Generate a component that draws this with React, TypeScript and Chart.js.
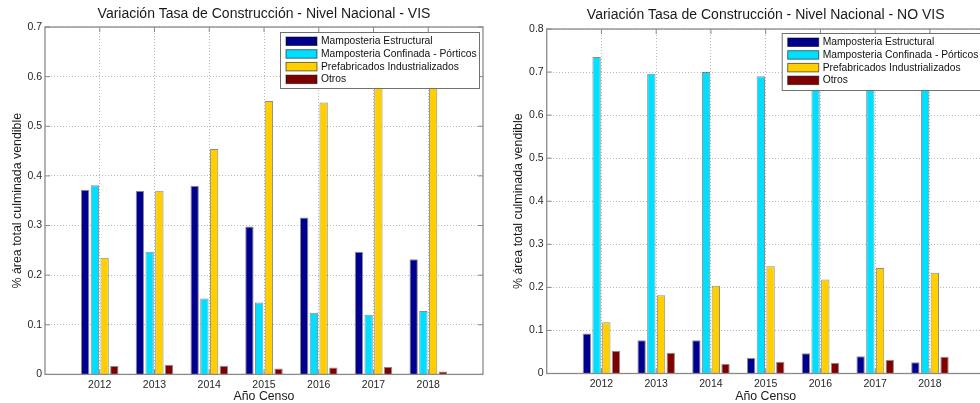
import React, { useEffect, useRef } from 'react';
import { Chart, registerables } from 'chart.js';

Chart.register(...registerables);

// ---------- DATA ----------
const YEARS = [2012, 2013, 2014, 2015, 2016, 2017, 2018];
const SERIES_NAMES = [
  'Mamposteria Estructural',
  'Mamposteria Confinada - Pórticos',
  'Prefabricados Industrializados',
  'Otros',
];
const SERIES_COLORS = ['#00008F', '#00DFFF', '#FFCF00', '#800000'];

// VIS
const VIS_ESTRUCTURAL = [0.372, 0.37, 0.38, 0.298, 0.316, 0.247, 0.232];
const VIS_CONFINADA = [0.381, 0.247, 0.153, 0.145, 0.124, 0.12, 0.128];
const VIS_PREFABRICADOS = [0.235, 0.37, 0.454, 0.551, 0.548, 0.617, 0.634];
const VIS_OTROS = [0.017, 0.0195, 0.0175, 0.012, 0.014, 0.0155, 0.006];

// NO VIS
const NOVIS_ESTRUCTURAL = [0.093, 0.077, 0.077, 0.036, 0.047, 0.04, 0.026];
const NOVIS_CONFINADA = [0.735, 0.696, 0.7, 0.69, 0.711, 0.684, 0.702];
const NOVIS_PREFABRICADOS = [0.119, 0.182, 0.204, 0.249, 0.218, 0.245, 0.234];
const NOVIS_OTROS = [0.053, 0.048, 0.022, 0.027, 0.025, 0.032, 0.039];

const VIS_Y_TICKS = [0, 0.1, 0.2, 0.3, 0.4, 0.5, 0.6, 0.7];
const NOVIS_Y_TICKS = [0, 0.1, 0.2, 0.3, 0.4, 0.5, 0.6, 0.7, 0.8];

const TITLE_VIS = 'Variación Tasa de Construcción - Nivel Nacional - VIS';
const TITLE_NOVIS = 'Variación Tasa de Construcción - Nivel Nacional - NO VIS';
const X_TITLE = 'Año Censo';
const Y_TITLE = '% área total culminada vendible';

// ---------- STYLE ----------
const FONT = "'Liberation Sans', Arial, Helvetica, sans-serif";
const AXIS_COLOR = '#8a8a8a';
const GRID_COLOR = '#b8b8b8';
const TEXT_COLOR = '#262626';

const framePlugin = {
  id: 'matlabFrame',
  afterDatasetsDraw(chart: any) {
    const { ctx, chartArea: a, scales } = chart;
    ctx.save();
    ctx.strokeStyle = AXIS_COLOR;
    ctx.lineWidth = 1;
    const tl = 5;
    ctx.beginPath();
    scales.y.ticks.forEach((t: any) => {
      const py = scales.y.getPixelForValue(t.value);
      ctx.moveTo(a.left, py);
      ctx.lineTo(a.left + tl, py);
      ctx.moveTo(a.right, py);
      ctx.lineTo(a.right - tl, py);
    });
    scales.x.ticks.forEach((t: any) => {
      const px = scales.x.getPixelForValue(t.value);
      ctx.moveTo(px, a.bottom);
      ctx.lineTo(px, a.bottom - tl);
      ctx.moveTo(px, a.top);
      ctx.lineTo(px, a.top + tl);
    });
    ctx.stroke();
    ctx.lineWidth = 1.3;
    ctx.strokeRect(a.left, a.top, a.right - a.left, a.bottom - a.top);
    ctx.restore();
  },
};

const boxLegendPlugin = {
  id: 'boxLegend',
  afterDraw(chart: any, _args: any, opts: any) {
    const { ctx, chartArea: a } = chart;
    const x = a.right - opts.dx;
    const y = a.top + opts.dy;
    const w = opts.w;
    const h = opts.h;
    ctx.save();
    ctx.fillStyle = '#ffffff';
    ctx.fillRect(x, y, w, h);
    ctx.strokeStyle = '#707070';
    ctx.lineWidth = 1;
    ctx.strokeRect(x + 0.5, y + 0.5, w, h);
    ctx.font = `10.3px ${FONT}`;
    ctx.textBaseline = 'middle';
    ctx.textAlign = 'left';
    chart.data.datasets.forEach((ds: any, i: number) => {
      const cy = y + 9 + i * 12.7;
      ctx.fillStyle = ds.backgroundColor;
      ctx.fillRect(x + 6, cy - 4, 31, 8.5);
      ctx.strokeStyle = 'rgba(0,0,0,0.55)';
      ctx.strokeRect(x + 6, cy - 4, 31, 8.5);
      ctx.fillStyle = '#111111';
      ctx.fillText(ds.label, x + 41, cy + 0.5);
    });
    ctx.restore();
  },
};

function makeConfig(
  title: string,
  series: number[][],
  yTicks: number[],
  geom: {
    yWidth: number;
    xHeight: number;
    padRight: number;
    titlePadTop: number;
    titlePadBottom: number;
    yTitlePad: number;
    legend: { dx: number; dy: number; w: number; h: number };
  }
): any {
  return {
    type: 'bar',
    data: {
      datasets: series.map((vals, i) => ({
        label: SERIES_NAMES[i],
        data: YEARS.map((yr, j) => ({ x: yr, y: vals[j] })),
        backgroundColor: SERIES_COLORS[i],
        borderColor: 'rgba(0,0,0,0.45)',
        borderWidth: 1,
        categoryPercentage: 0.71,
        barPercentage: 0.86,
      })),
    },
    options: {
      responsive: false,
      animation: false,
      maintainAspectRatio: false,
      layout: { padding: { left: 0, right: geom.padRight, top: 0, bottom: 0 } },
      plugins: {
        legend: { display: false },
        tooltip: { enabled: false },
        title: {
          display: true,
          text: title,
          fullSize: false,
          color: '#1a1a1a',
          font: { family: FONT, size: 14, weight: 'normal', lineHeight: 1.2 },
          padding: { top: geom.titlePadTop, bottom: geom.titlePadBottom },
        },
        boxLegend: geom.legend,
      },
      scales: {
        x: {
          type: 'linear',
          offset: false,
          min: YEARS[0] - 1,
          max: YEARS[YEARS.length - 1] + 1,
          afterBuildTicks: (scale: any) => {
            scale.ticks = YEARS.map((v) => ({ value: v }));
          },
          afterFit: (scale: any) => {
            scale.height = geom.xHeight;
          },
          ticks: {
            autoSkip: false,
            maxRotation: 0,
            padding: 4,
            color: TEXT_COLOR,
            font: { family: FONT, size: 10.5 },
            callback: (v: any) => String(v),
          },
          grid: {
            display: true,
            offset: false,
            drawTicks: false,
            color: GRID_COLOR,
            lineWidth: 1,
          },
          border: { display: false, dash: [1, 2] },
          title: {
            display: true,
            text: X_TITLE,
            color: '#1a1a1a',
            font: { family: FONT, size: 12.3, lineHeight: 1 },
            padding: { top: 0, bottom: 0 },
          },
        },
        y: {
          type: 'linear',
          min: yTicks[0],
          max: yTicks[yTicks.length - 1],
          afterBuildTicks: (scale: any) => {
            scale.ticks = yTicks.map((v) => ({ value: v }));
          },
          afterFit: (scale: any) => {
            scale.width = geom.yWidth;
          },
          ticks: {
            padding: 3,
            color: TEXT_COLOR,
            font: { family: FONT, size: 10.5 },
            callback: (v: any) => (v === 0 ? '0' : Number(v).toFixed(1)),
          },
          grid: {
            display: true,
            drawTicks: false,
            color: GRID_COLOR,
            lineWidth: 1,
          },
          border: { display: false, dash: [1, 2] },
          title: {
            display: true,
            text: Y_TITLE,
            color: '#1a1a1a',
            font: { family: FONT, size: 12.4, lineHeight: 1.2 },
            padding: { top: geom.yTitlePad, bottom: 0 },
          },
        },
      },
    },
    plugins: [framePlugin, boxLegendPlugin],
  };
}

function ChartCanvas({ config, width, height, left }: { config: any; width: number; height: number; left: number }) {
  const ref = useRef<HTMLCanvasElement | null>(null);
  useEffect(() => {
    if (!ref.current) return;
    const chart = new Chart(ref.current, config);
    return () => chart.destroy();
  }, [config]);
  return (
    <canvas
      ref={ref}
      width={width}
      height={height}
      style={{ position: 'absolute', left, top: 0, width, height }}
    />
  );
}

export default function App() {
  const visCfg = React.useMemo(
    () =>
      makeConfig(
        TITLE_VIS,
        [VIS_ESTRUCTURAL, VIS_CONFINADA, VIS_PREFABRICADOS, VIS_OTROS],
        VIS_Y_TICKS,
        {
          yWidth: 45,
          xHeight: 28.6,
          padRight: 7,
          titlePadTop: 6,
          titlePadBottom: 4.2,
          yTitlePad: 10,
          legend: { dx: 203, dy: 5, w: 199, h: 56 },
        }
      ),
    []
  );
  const novisCfg = React.useMemo(
    () =>
      makeConfig(
        TITLE_NOVIS,
        [NOVIS_ESTRUCTURAL, NOVIS_CONFINADA, NOVIS_PREFABRICADOS, NOVIS_OTROS],
        NOVIS_Y_TICKS,
        {
          yWidth: 56.7,
          xHeight: 29.5,
          padRight: 5.3,
          titlePadTop: 7,
          titlePadBottom: 5.2,
          yTitlePad: 20.8,
          legend: { dx: 203, dy: 4, w: 205, h: 57 },
        }
      ),
    []
  );
  return (
    <div
      style={{
        position: 'fixed',
        left: 0,
        top: 0,
        width: 980,
        height: 403,
        overflow: 'hidden',
        background: '#ffffff',
      }}
    >
      <ChartCanvas config={visCfg} width={490} height={403} left={0} />
      <ChartCanvas config={novisCfg} width={500} height={403} left={490} />
    </div>
  );
}
